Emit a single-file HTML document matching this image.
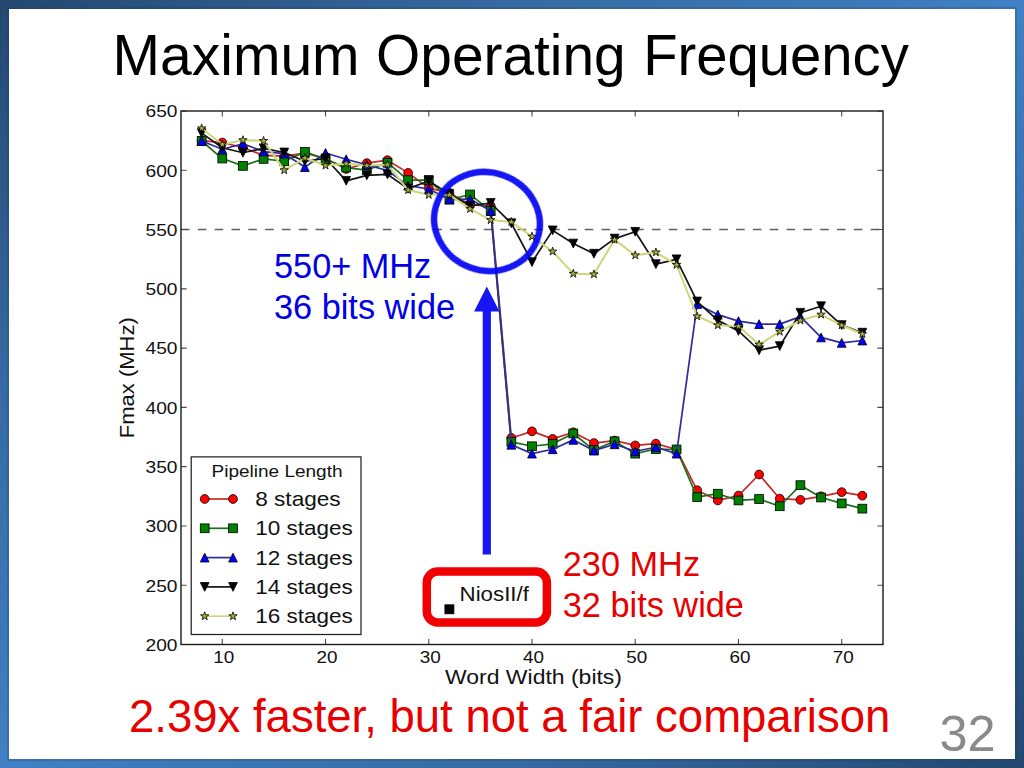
<!DOCTYPE html>
<html><head><meta charset="utf-8"><style>
html,body{margin:0;padding:0;width:1024px;height:768px;overflow:hidden;background:#fff}
svg{display:block}
text{font-family:"Liberation Sans",sans-serif}
</style></head><body>
<svg width="1024" height="768" viewBox="0 0 1024 768">
<defs>
<linearGradient id="bg" x1="0" y1="0" x2="1" y2="1">
<stop offset="0" stop-color="#244870"/>
<stop offset="0.25" stop-color="#366aa2"/>
<stop offset="0.5" stop-color="#4080c4"/>
<stop offset="0.75" stop-color="#366aa2"/>
<stop offset="1" stop-color="#244870"/>
</linearGradient>
<clipPath id="ax"><rect x="181" y="111" width="702" height="533.5"/></clipPath>
</defs>
<rect x="0" y="0" width="1024" height="768" fill="url(#bg)"/>
<rect x="8" y="8" width="1008" height="752" fill="none" stroke="#1e3250" stroke-opacity="0.4" stroke-width="1"/>
<rect x="9" y="9" width="1006" height="750" fill="#ffffff"/>

<text x="112.6" y="74.7" font-size="57" fill="#000">Maximum</text>
<text x="376.1" y="74.7" font-size="57" fill="#000" textLength="249.6" lengthAdjust="spacingAndGlyphs">Operating</text>
<text x="643.3" y="74.7" font-size="57" fill="#000" textLength="265.5" lengthAdjust="spacingAndGlyphs">Frequency</text>
<rect x="426.8" y="571.6" width="120.1" height="50.9" rx="11" ry="11" fill="none" stroke="#f00000" stroke-width="8.5"/>
<line x1="181" y1="229.56" x2="883" y2="229.56" stroke="#606060" stroke-width="1.4" stroke-dasharray="8.6 8.22"/>
<path d="M222.29 644.5V638.9M222.29 111V116.6M325.53 644.5V638.9M325.53 111V116.6M428.76 644.5V638.9M428.76 111V116.6M532.00 644.5V638.9M532.00 111V116.6M635.24 644.5V638.9M635.24 111V116.6M738.47 644.5V638.9M738.47 111V116.6M841.71 644.5V638.9M841.71 111V116.6M181 644.50H186.6M883 644.50H877.4M181 585.22H186.6M883 585.22H877.4M181 525.94H186.6M883 525.94H877.4M181 466.67H186.6M883 466.67H877.4M181 407.39H186.6M883 407.39H877.4M181 348.11H186.6M883 348.11H877.4M181 288.83H186.6M883 288.83H877.4M181 229.56H186.6M883 229.56H877.4M181 170.28H186.6M883 170.28H877.4M181 111.00H186.6M883 111.00H877.4" stroke="#4a4a4a" stroke-width="1.1" fill="none"/>
<g clip-path="url(#ax)">
<polyline points="201.65,140.64 222.29,142.54 242.94,147.52 263.59,155.46 284.24,156.05 304.88,153.09 325.53,158.42 346.18,168.97 366.82,163.16 387.47,160.20 408.12,172.89 428.76,188.06 449.41,192.80 470.06,205.01 490.71,205.84 511.35,437.98 532.00,431.34 552.65,438.92 573.29,432.29 593.94,443.07 614.59,440.58 635.24,445.45 655.88,443.67 676.53,449.48 697.18,490.26 717.82,500.45 738.47,495.59 759.12,474.49 779.76,498.68 800.41,499.86 821.06,496.31 841.71,492.16 862.35,495.71" fill="none" stroke="#c62a2a" stroke-width="1.7" stroke-linejoin="round"/>
<circle cx="201.65" cy="140.64" r="4.40" fill="#ff0000" stroke="#000" stroke-width="0.8"/><circle cx="222.29" cy="142.54" r="4.40" fill="#ff0000" stroke="#000" stroke-width="0.8"/><circle cx="242.94" cy="147.52" r="4.40" fill="#ff0000" stroke="#000" stroke-width="0.8"/><circle cx="263.59" cy="155.46" r="4.40" fill="#ff0000" stroke="#000" stroke-width="0.8"/><circle cx="284.24" cy="156.05" r="4.40" fill="#ff0000" stroke="#000" stroke-width="0.8"/><circle cx="304.88" cy="153.09" r="4.40" fill="#ff0000" stroke="#000" stroke-width="0.8"/><circle cx="325.53" cy="158.42" r="4.40" fill="#ff0000" stroke="#000" stroke-width="0.8"/><circle cx="346.18" cy="168.97" r="4.40" fill="#ff0000" stroke="#000" stroke-width="0.8"/><circle cx="366.82" cy="163.16" r="4.40" fill="#ff0000" stroke="#000" stroke-width="0.8"/><circle cx="387.47" cy="160.20" r="4.40" fill="#ff0000" stroke="#000" stroke-width="0.8"/><circle cx="408.12" cy="172.89" r="4.40" fill="#ff0000" stroke="#000" stroke-width="0.8"/><circle cx="428.76" cy="188.06" r="4.40" fill="#ff0000" stroke="#000" stroke-width="0.8"/><circle cx="449.41" cy="192.80" r="4.40" fill="#ff0000" stroke="#000" stroke-width="0.8"/><circle cx="470.06" cy="205.01" r="4.40" fill="#ff0000" stroke="#000" stroke-width="0.8"/><circle cx="490.71" cy="205.84" r="4.40" fill="#ff0000" stroke="#000" stroke-width="0.8"/><circle cx="511.35" cy="437.98" r="4.40" fill="#ff0000" stroke="#000" stroke-width="0.8"/><circle cx="532.00" cy="431.34" r="4.40" fill="#ff0000" stroke="#000" stroke-width="0.8"/><circle cx="552.65" cy="438.92" r="4.40" fill="#ff0000" stroke="#000" stroke-width="0.8"/><circle cx="573.29" cy="432.29" r="4.40" fill="#ff0000" stroke="#000" stroke-width="0.8"/><circle cx="593.94" cy="443.07" r="4.40" fill="#ff0000" stroke="#000" stroke-width="0.8"/><circle cx="614.59" cy="440.58" r="4.40" fill="#ff0000" stroke="#000" stroke-width="0.8"/><circle cx="635.24" cy="445.45" r="4.40" fill="#ff0000" stroke="#000" stroke-width="0.8"/><circle cx="655.88" cy="443.67" r="4.40" fill="#ff0000" stroke="#000" stroke-width="0.8"/><circle cx="676.53" cy="449.48" r="4.40" fill="#ff0000" stroke="#000" stroke-width="0.8"/><circle cx="697.18" cy="490.26" r="4.40" fill="#ff0000" stroke="#000" stroke-width="0.8"/><circle cx="717.82" cy="500.45" r="4.40" fill="#ff0000" stroke="#000" stroke-width="0.8"/><circle cx="738.47" cy="495.59" r="4.40" fill="#ff0000" stroke="#000" stroke-width="0.8"/><circle cx="759.12" cy="474.49" r="4.40" fill="#ff0000" stroke="#000" stroke-width="0.8"/><circle cx="779.76" cy="498.68" r="4.40" fill="#ff0000" stroke="#000" stroke-width="0.8"/><circle cx="800.41" cy="499.86" r="4.40" fill="#ff0000" stroke="#000" stroke-width="0.8"/><circle cx="821.06" cy="496.31" r="4.40" fill="#ff0000" stroke="#000" stroke-width="0.8"/><circle cx="841.71" cy="492.16" r="4.40" fill="#ff0000" stroke="#000" stroke-width="0.8"/><circle cx="862.35" cy="495.71" r="4.40" fill="#ff0000" stroke="#000" stroke-width="0.8"/>
<polyline points="201.65,140.99 222.29,158.54 242.94,165.89 263.59,158.90 284.24,161.27 304.88,151.90 325.53,159.25 346.18,167.55 366.82,170.04 387.47,162.69 408.12,180.12 428.76,180.00 449.41,199.56 470.06,194.46 490.71,210.94 511.35,441.89 532.00,446.28 552.65,443.79 573.29,433.47 593.94,450.07 614.59,441.30 635.24,453.63 655.88,449.00 676.53,449.48 697.18,497.14 717.82,493.70 738.47,500.45 759.12,499.03 779.76,506.26 800.41,485.16 821.06,497.49 841.71,503.42 862.35,508.64" fill="none" stroke="#1c701c" stroke-width="1.7" stroke-linejoin="round"/>
<rect x="197.25" y="136.59" width="8.80" height="8.80" fill="#008000" stroke="#000" stroke-width="0.8"/><rect x="217.89" y="154.14" width="8.80" height="8.80" fill="#008000" stroke="#000" stroke-width="0.8"/><rect x="238.54" y="161.49" width="8.80" height="8.80" fill="#008000" stroke="#000" stroke-width="0.8"/><rect x="259.19" y="154.50" width="8.80" height="8.80" fill="#008000" stroke="#000" stroke-width="0.8"/><rect x="279.84" y="156.87" width="8.80" height="8.80" fill="#008000" stroke="#000" stroke-width="0.8"/><rect x="300.48" y="147.50" width="8.80" height="8.80" fill="#008000" stroke="#000" stroke-width="0.8"/><rect x="321.13" y="154.85" width="8.80" height="8.80" fill="#008000" stroke="#000" stroke-width="0.8"/><rect x="341.78" y="163.15" width="8.80" height="8.80" fill="#008000" stroke="#000" stroke-width="0.8"/><rect x="362.42" y="165.64" width="8.80" height="8.80" fill="#008000" stroke="#000" stroke-width="0.8"/><rect x="383.07" y="158.29" width="8.80" height="8.80" fill="#008000" stroke="#000" stroke-width="0.8"/><rect x="403.72" y="175.72" width="8.80" height="8.80" fill="#008000" stroke="#000" stroke-width="0.8"/><rect x="424.36" y="175.60" width="8.80" height="8.80" fill="#008000" stroke="#000" stroke-width="0.8"/><rect x="445.01" y="195.16" width="8.80" height="8.80" fill="#008000" stroke="#000" stroke-width="0.8"/><rect x="465.66" y="190.06" width="8.80" height="8.80" fill="#008000" stroke="#000" stroke-width="0.8"/><rect x="486.31" y="206.54" width="8.80" height="8.80" fill="#008000" stroke="#000" stroke-width="0.8"/><rect x="506.95" y="437.49" width="8.80" height="8.80" fill="#008000" stroke="#000" stroke-width="0.8"/><rect x="527.60" y="441.88" width="8.80" height="8.80" fill="#008000" stroke="#000" stroke-width="0.8"/><rect x="548.25" y="439.39" width="8.80" height="8.80" fill="#008000" stroke="#000" stroke-width="0.8"/><rect x="568.89" y="429.07" width="8.80" height="8.80" fill="#008000" stroke="#000" stroke-width="0.8"/><rect x="589.54" y="445.67" width="8.80" height="8.80" fill="#008000" stroke="#000" stroke-width="0.8"/><rect x="610.19" y="436.90" width="8.80" height="8.80" fill="#008000" stroke="#000" stroke-width="0.8"/><rect x="630.84" y="449.23" width="8.80" height="8.80" fill="#008000" stroke="#000" stroke-width="0.8"/><rect x="651.48" y="444.60" width="8.80" height="8.80" fill="#008000" stroke="#000" stroke-width="0.8"/><rect x="672.13" y="445.08" width="8.80" height="8.80" fill="#008000" stroke="#000" stroke-width="0.8"/><rect x="692.78" y="492.74" width="8.80" height="8.80" fill="#008000" stroke="#000" stroke-width="0.8"/><rect x="713.42" y="489.30" width="8.80" height="8.80" fill="#008000" stroke="#000" stroke-width="0.8"/><rect x="734.07" y="496.06" width="8.80" height="8.80" fill="#008000" stroke="#000" stroke-width="0.8"/><rect x="754.72" y="494.63" width="8.80" height="8.80" fill="#008000" stroke="#000" stroke-width="0.8"/><rect x="775.36" y="501.86" width="8.80" height="8.80" fill="#008000" stroke="#000" stroke-width="0.8"/><rect x="796.01" y="480.76" width="8.80" height="8.80" fill="#008000" stroke="#000" stroke-width="0.8"/><rect x="816.66" y="493.09" width="8.80" height="8.80" fill="#008000" stroke="#000" stroke-width="0.8"/><rect x="837.31" y="499.02" width="8.80" height="8.80" fill="#008000" stroke="#000" stroke-width="0.8"/><rect x="857.95" y="504.24" width="8.80" height="8.80" fill="#008000" stroke="#000" stroke-width="0.8"/>
<polyline points="201.65,140.99 222.29,149.29 242.94,143.72 263.59,151.55 284.24,153.68 304.88,167.08 325.53,152.97 346.18,159.25 366.82,164.94 387.47,170.51 408.12,185.69 428.76,189.01 449.41,199.44 470.06,199.09 490.71,210.94 511.35,444.73 532.00,453.63 552.65,449.24 573.29,439.87 593.94,450.66 614.59,444.26 635.24,451.25 655.88,447.22 676.53,453.63 697.18,304.13 717.82,314.68 738.47,321.08 759.12,324.16 779.76,324.16 800.41,316.58 821.06,337.44 841.71,342.89 862.35,340.52" fill="none" stroke="#2d2d9e" stroke-width="1.7" stroke-linejoin="round"/>
<path d="M201.65 136.59L197.25 145.39L206.05 145.39Z" fill="#0000ff" stroke="#000" stroke-width="0.8"/><path d="M222.29 144.89L217.89 153.69L226.69 153.69Z" fill="#0000ff" stroke="#000" stroke-width="0.8"/><path d="M242.94 139.32L238.54 148.12L247.34 148.12Z" fill="#0000ff" stroke="#000" stroke-width="0.8"/><path d="M263.59 147.15L259.19 155.95L267.99 155.95Z" fill="#0000ff" stroke="#000" stroke-width="0.8"/><path d="M284.24 149.28L279.84 158.08L288.64 158.08Z" fill="#0000ff" stroke="#000" stroke-width="0.8"/><path d="M304.88 162.68L300.48 171.48L309.28 171.48Z" fill="#0000ff" stroke="#000" stroke-width="0.8"/><path d="M325.53 148.57L321.13 157.37L329.93 157.37Z" fill="#0000ff" stroke="#000" stroke-width="0.8"/><path d="M346.18 154.85L341.78 163.65L350.58 163.65Z" fill="#0000ff" stroke="#000" stroke-width="0.8"/><path d="M366.82 160.54L362.42 169.34L371.22 169.34Z" fill="#0000ff" stroke="#000" stroke-width="0.8"/><path d="M387.47 166.11L383.07 174.91L391.87 174.91Z" fill="#0000ff" stroke="#000" stroke-width="0.8"/><path d="M408.12 181.29L403.72 190.09L412.52 190.09Z" fill="#0000ff" stroke="#000" stroke-width="0.8"/><path d="M428.76 184.61L424.36 193.41L433.16 193.41Z" fill="#0000ff" stroke="#000" stroke-width="0.8"/><path d="M449.41 195.04L445.01 203.84L453.81 203.84Z" fill="#0000ff" stroke="#000" stroke-width="0.8"/><path d="M470.06 194.69L465.66 203.49L474.46 203.49Z" fill="#0000ff" stroke="#000" stroke-width="0.8"/><path d="M490.71 206.54L486.31 215.34L495.11 215.34Z" fill="#0000ff" stroke="#000" stroke-width="0.8"/><path d="M511.35 440.33L506.95 449.13L515.75 449.13Z" fill="#0000ff" stroke="#000" stroke-width="0.8"/><path d="M532.00 449.23L527.60 458.03L536.40 458.03Z" fill="#0000ff" stroke="#000" stroke-width="0.8"/><path d="M552.65 444.84L548.25 453.64L557.05 453.64Z" fill="#0000ff" stroke="#000" stroke-width="0.8"/><path d="M573.29 435.47L568.89 444.27L577.69 444.27Z" fill="#0000ff" stroke="#000" stroke-width="0.8"/><path d="M593.94 446.26L589.54 455.06L598.34 455.06Z" fill="#0000ff" stroke="#000" stroke-width="0.8"/><path d="M614.59 439.86L610.19 448.66L618.99 448.66Z" fill="#0000ff" stroke="#000" stroke-width="0.8"/><path d="M635.24 446.85L630.84 455.65L639.64 455.65Z" fill="#0000ff" stroke="#000" stroke-width="0.8"/><path d="M655.88 442.82L651.48 451.62L660.28 451.62Z" fill="#0000ff" stroke="#000" stroke-width="0.8"/><path d="M676.53 449.23L672.13 458.03L680.93 458.03Z" fill="#0000ff" stroke="#000" stroke-width="0.8"/><path d="M697.18 299.73L692.78 308.53L701.58 308.53Z" fill="#0000ff" stroke="#000" stroke-width="0.8"/><path d="M717.82 310.28L713.42 319.08L722.22 319.08Z" fill="#0000ff" stroke="#000" stroke-width="0.8"/><path d="M738.47 316.68L734.07 325.48L742.87 325.48Z" fill="#0000ff" stroke="#000" stroke-width="0.8"/><path d="M759.12 319.76L754.72 328.56L763.52 328.56Z" fill="#0000ff" stroke="#000" stroke-width="0.8"/><path d="M779.76 319.76L775.36 328.56L784.16 328.56Z" fill="#0000ff" stroke="#000" stroke-width="0.8"/><path d="M800.41 312.18L796.01 320.98L804.81 320.98Z" fill="#0000ff" stroke="#000" stroke-width="0.8"/><path d="M821.06 333.04L816.66 341.84L825.46 341.84Z" fill="#0000ff" stroke="#000" stroke-width="0.8"/><path d="M841.71 338.49L837.31 347.29L846.11 347.29Z" fill="#0000ff" stroke="#000" stroke-width="0.8"/><path d="M862.35 336.12L857.95 344.92L866.75 344.92Z" fill="#0000ff" stroke="#000" stroke-width="0.8"/>
<polyline points="201.65,133.17 222.29,147.75 242.94,152.73 263.59,148.34 284.24,152.49 304.88,161.27 325.53,158.30 346.18,180.83 366.82,175.38 387.47,174.43 408.12,188.65 428.76,180.95 449.41,193.99 470.06,205.84 490.71,203.00 511.35,223.27 532.00,262.16 552.65,230.39 573.29,243.55 593.94,253.74 614.59,238.57 635.24,231.81 655.88,264.17 676.53,259.31 697.18,301.52 717.82,320.37 738.47,330.92 759.12,350.25 779.76,346.10 800.41,312.78 821.06,306.26 841.71,325.11 862.35,332.70" fill="none" stroke="#141414" stroke-width="1.7" stroke-linejoin="round"/>
<path d="M201.65 137.57L197.25 128.77L206.05 128.77Z" fill="#000000" stroke="#000" stroke-width="0.8"/><path d="M222.29 152.15L217.89 143.35L226.69 143.35Z" fill="#000000" stroke="#000" stroke-width="0.8"/><path d="M242.94 157.13L238.54 148.33L247.34 148.33Z" fill="#000000" stroke="#000" stroke-width="0.8"/><path d="M263.59 152.75L259.19 143.94L267.99 143.94Z" fill="#000000" stroke="#000" stroke-width="0.8"/><path d="M284.24 156.89L279.84 148.09L288.64 148.09Z" fill="#000000" stroke="#000" stroke-width="0.8"/><path d="M304.88 165.67L300.48 156.87L309.28 156.87Z" fill="#000000" stroke="#000" stroke-width="0.8"/><path d="M325.53 162.70L321.13 153.90L329.93 153.90Z" fill="#000000" stroke="#000" stroke-width="0.8"/><path d="M346.18 185.23L341.78 176.43L350.58 176.43Z" fill="#000000" stroke="#000" stroke-width="0.8"/><path d="M366.82 179.78L362.42 170.98L371.22 170.98Z" fill="#000000" stroke="#000" stroke-width="0.8"/><path d="M387.47 178.83L383.07 170.03L391.87 170.03Z" fill="#000000" stroke="#000" stroke-width="0.8"/><path d="M408.12 193.05L403.72 184.25L412.52 184.25Z" fill="#000000" stroke="#000" stroke-width="0.8"/><path d="M428.76 185.35L424.36 176.55L433.16 176.55Z" fill="#000000" stroke="#000" stroke-width="0.8"/><path d="M449.41 198.39L445.01 189.59L453.81 189.59Z" fill="#000000" stroke="#000" stroke-width="0.8"/><path d="M470.06 210.24L465.66 201.44L474.46 201.44Z" fill="#000000" stroke="#000" stroke-width="0.8"/><path d="M490.71 207.40L486.31 198.60L495.11 198.60Z" fill="#000000" stroke="#000" stroke-width="0.8"/><path d="M511.35 227.67L506.95 218.87L515.75 218.87Z" fill="#000000" stroke="#000" stroke-width="0.8"/><path d="M532.00 266.56L527.60 257.76L536.40 257.76Z" fill="#000000" stroke="#000" stroke-width="0.8"/><path d="M552.65 234.79L548.25 225.99L557.05 225.99Z" fill="#000000" stroke="#000" stroke-width="0.8"/><path d="M573.29 247.95L568.89 239.15L577.69 239.15Z" fill="#000000" stroke="#000" stroke-width="0.8"/><path d="M593.94 258.14L589.54 249.34L598.34 249.34Z" fill="#000000" stroke="#000" stroke-width="0.8"/><path d="M614.59 242.97L610.19 234.17L618.99 234.17Z" fill="#000000" stroke="#000" stroke-width="0.8"/><path d="M635.24 236.21L630.84 227.41L639.64 227.41Z" fill="#000000" stroke="#000" stroke-width="0.8"/><path d="M655.88 268.57L651.48 259.77L660.28 259.77Z" fill="#000000" stroke="#000" stroke-width="0.8"/><path d="M676.53 263.71L672.13 254.91L680.93 254.91Z" fill="#000000" stroke="#000" stroke-width="0.8"/><path d="M697.18 305.92L692.78 297.12L701.58 297.12Z" fill="#000000" stroke="#000" stroke-width="0.8"/><path d="M717.82 324.77L713.42 315.97L722.22 315.97Z" fill="#000000" stroke="#000" stroke-width="0.8"/><path d="M738.47 335.32L734.07 326.52L742.87 326.52Z" fill="#000000" stroke="#000" stroke-width="0.8"/><path d="M759.12 354.65L754.72 345.85L763.52 345.85Z" fill="#000000" stroke="#000" stroke-width="0.8"/><path d="M779.76 350.50L775.36 341.70L784.16 341.70Z" fill="#000000" stroke="#000" stroke-width="0.8"/><path d="M800.41 317.18L796.01 308.38L804.81 308.38Z" fill="#000000" stroke="#000" stroke-width="0.8"/><path d="M821.06 310.66L816.66 301.86L825.46 301.86Z" fill="#000000" stroke="#000" stroke-width="0.8"/><path d="M841.71 329.51L837.31 320.71L846.11 320.71Z" fill="#000000" stroke="#000" stroke-width="0.8"/><path d="M862.35 337.10L857.95 328.30L866.75 328.30Z" fill="#000000" stroke="#000" stroke-width="0.8"/>
<polyline points="201.65,128.31 222.29,144.43 242.94,140.16 263.59,140.88 284.24,170.16 304.88,158.07 325.53,165.54 346.18,163.64 366.82,165.54 387.47,164.59 408.12,190.08 428.76,194.82 449.41,194.82 470.06,208.93 490.71,220.07 511.35,221.85 532.00,236.55 552.65,251.49 573.29,273.66 593.94,274.25 614.59,239.63 635.24,255.28 655.88,252.32 676.53,264.89 697.18,316.34 717.82,325.23 738.47,326.30 759.12,344.55 779.76,331.63 800.41,320.49 821.06,314.56 841.71,325.23 862.35,334.00" fill="none" stroke="#cfd67a" stroke-width="2.04" stroke-linejoin="round"/>
<path d="M201.65 123.91L200.66 126.95L197.46 126.95L200.05 128.83L199.06 131.87L201.65 129.99L204.23 131.87L203.25 128.83L205.83 126.95L202.63 126.95Z" fill="#a8b040" stroke="#000" stroke-width="0.8"/><path d="M222.29 140.03L221.31 143.07L218.11 143.07L220.70 144.95L219.71 147.99L222.29 146.11L224.88 147.99L223.89 144.95L226.48 143.07L223.28 143.07Z" fill="#a8b040" stroke="#000" stroke-width="0.8"/><path d="M242.94 135.76L241.95 138.80L238.76 138.80L241.34 140.68L240.35 143.72L242.94 141.85L245.53 143.72L244.54 140.68L247.13 138.80L243.93 138.80Z" fill="#a8b040" stroke="#000" stroke-width="0.8"/><path d="M263.59 136.48L262.60 139.52L259.40 139.52L261.99 141.40L261.00 144.44L263.59 142.56L266.17 144.44L265.19 141.40L267.77 139.52L264.58 139.52Z" fill="#a8b040" stroke="#000" stroke-width="0.8"/><path d="M284.24 165.76L283.25 168.80L280.05 168.80L282.64 170.68L281.65 173.72L284.24 171.84L286.82 173.72L285.83 170.68L288.42 168.80L285.22 168.80Z" fill="#a8b040" stroke="#000" stroke-width="0.8"/><path d="M304.88 153.67L303.89 156.71L300.70 156.71L303.28 158.59L302.30 161.63L304.88 159.75L307.47 161.63L306.48 158.59L309.07 156.71L305.87 156.71Z" fill="#a8b040" stroke="#000" stroke-width="0.8"/><path d="M325.53 161.14L324.54 164.18L321.34 164.18L323.93 166.05L322.94 169.10L325.53 167.22L328.12 169.10L327.13 166.05L329.71 164.18L326.52 164.18Z" fill="#a8b040" stroke="#000" stroke-width="0.8"/><path d="M346.18 159.24L345.19 162.28L341.99 162.28L344.58 164.16L343.59 167.20L346.18 165.32L348.76 167.20L347.77 164.16L350.36 162.28L347.16 162.28Z" fill="#a8b040" stroke="#000" stroke-width="0.8"/><path d="M366.82 161.14L365.84 164.18L362.64 164.18L365.23 166.05L364.24 169.10L366.82 167.22L369.41 169.10L368.42 166.05L371.01 164.18L367.81 164.18Z" fill="#a8b040" stroke="#000" stroke-width="0.8"/><path d="M387.47 160.19L386.48 163.23L383.29 163.23L385.87 165.11L384.88 168.15L387.47 166.27L390.06 168.15L389.07 165.11L391.66 163.23L388.46 163.23Z" fill="#a8b040" stroke="#000" stroke-width="0.8"/><path d="M408.12 185.68L407.13 188.72L403.93 188.72L406.52 190.60L405.53 193.64L408.12 191.76L410.70 193.64L409.72 190.60L412.30 188.72L409.11 188.72Z" fill="#a8b040" stroke="#000" stroke-width="0.8"/><path d="M428.76 190.42L427.78 193.46L424.58 193.46L427.17 195.34L426.18 198.38L428.76 196.50L431.35 198.38L430.36 195.34L432.95 193.46L429.75 193.46Z" fill="#a8b040" stroke="#000" stroke-width="0.8"/><path d="M449.41 190.42L448.42 193.46L445.23 193.46L447.81 195.34L446.83 198.38L449.41 196.50L452.00 198.38L451.01 195.34L453.60 193.46L450.40 193.46Z" fill="#a8b040" stroke="#000" stroke-width="0.8"/><path d="M470.06 204.53L469.07 207.57L465.87 207.57L468.46 209.45L467.47 212.49L470.06 210.61L472.65 212.49L471.66 209.45L474.24 207.57L471.05 207.57Z" fill="#a8b040" stroke="#000" stroke-width="0.8"/><path d="M490.71 215.67L489.72 218.71L486.52 218.71L489.11 220.59L488.12 223.63L490.71 221.75L493.29 223.63L492.30 220.59L494.89 218.71L491.69 218.71Z" fill="#a8b040" stroke="#000" stroke-width="0.8"/><path d="M511.35 217.45L510.37 220.49L507.17 220.49L509.75 222.37L508.77 225.41L511.35 223.53L513.94 225.41L512.95 222.37L515.54 220.49L512.34 220.49Z" fill="#a8b040" stroke="#000" stroke-width="0.8"/><path d="M532.00 232.15L531.01 235.19L527.82 235.19L530.40 237.07L529.41 240.11L532.00 238.23L534.59 240.11L533.60 237.07L536.18 235.19L532.99 235.19Z" fill="#a8b040" stroke="#000" stroke-width="0.8"/><path d="M552.65 247.09L551.66 250.13L548.46 250.13L551.05 252.01L550.06 255.05L552.65 253.17L555.23 255.05L554.25 252.01L556.83 250.13L553.63 250.13Z" fill="#a8b040" stroke="#000" stroke-width="0.8"/><path d="M573.29 269.26L572.31 272.30L569.11 272.30L571.70 274.18L570.71 277.22L573.29 275.34L575.88 277.22L574.89 274.18L577.48 272.30L574.28 272.30Z" fill="#a8b040" stroke="#000" stroke-width="0.8"/><path d="M593.94 269.85L592.95 272.89L589.76 272.89L592.34 274.77L591.35 277.81L593.94 275.93L596.53 277.81L595.54 274.77L598.13 272.89L594.93 272.89Z" fill="#a8b040" stroke="#000" stroke-width="0.8"/><path d="M614.59 235.23L613.60 238.27L610.40 238.27L612.99 240.15L612.00 243.19L614.59 241.31L617.17 243.19L616.19 240.15L618.77 238.27L615.58 238.27Z" fill="#a8b040" stroke="#000" stroke-width="0.8"/><path d="M635.24 250.88L634.25 253.92L631.05 253.92L633.64 255.80L632.65 258.84L635.24 256.96L637.82 258.84L636.83 255.80L639.42 253.92L636.22 253.92Z" fill="#a8b040" stroke="#000" stroke-width="0.8"/><path d="M655.88 247.92L654.89 250.96L651.70 250.96L654.28 252.84L653.30 255.88L655.88 254.00L658.47 255.88L657.48 252.84L660.07 250.96L656.87 250.96Z" fill="#a8b040" stroke="#000" stroke-width="0.8"/><path d="M676.53 260.49L675.54 263.53L672.34 263.53L674.93 265.40L673.94 268.44L676.53 266.57L679.12 268.44L678.13 265.40L680.71 263.53L677.52 263.53Z" fill="#a8b040" stroke="#000" stroke-width="0.8"/><path d="M697.18 311.94L696.19 314.98L692.99 314.98L695.58 316.86L694.59 319.90L697.18 318.02L699.76 319.90L698.77 316.86L701.36 314.98L698.16 314.98Z" fill="#a8b040" stroke="#000" stroke-width="0.8"/><path d="M717.82 320.83L716.84 323.87L713.64 323.87L716.23 325.75L715.24 328.79L717.82 326.91L720.41 328.79L719.42 325.75L722.01 323.87L718.81 323.87Z" fill="#a8b040" stroke="#000" stroke-width="0.8"/><path d="M738.47 321.90L737.48 324.94L734.29 324.94L736.87 326.82L735.88 329.86L738.47 327.98L741.06 329.86L740.07 326.82L742.66 324.94L739.46 324.94Z" fill="#a8b040" stroke="#000" stroke-width="0.8"/><path d="M759.12 340.15L758.13 343.19L754.93 343.19L757.52 345.07L756.53 348.11L759.12 346.24L761.70 348.11L760.72 345.07L763.30 343.19L760.11 343.19Z" fill="#a8b040" stroke="#000" stroke-width="0.8"/><path d="M779.76 327.23L778.78 330.27L775.58 330.27L778.17 332.15L777.18 335.19L779.76 333.31L782.35 335.19L781.36 332.15L783.95 330.27L780.75 330.27Z" fill="#a8b040" stroke="#000" stroke-width="0.8"/><path d="M800.41 316.09L799.42 319.13L796.23 319.13L798.81 321.01L797.83 324.05L800.41 322.17L803.00 324.05L802.01 321.01L804.60 319.13L801.40 319.13Z" fill="#a8b040" stroke="#000" stroke-width="0.8"/><path d="M821.06 310.16L820.07 313.20L816.87 313.20L819.46 315.08L818.47 318.12L821.06 316.24L823.65 318.12L822.66 315.08L825.24 313.20L822.05 313.20Z" fill="#a8b040" stroke="#000" stroke-width="0.8"/><path d="M841.71 320.83L840.72 323.87L837.52 323.87L840.11 325.75L839.12 328.79L841.71 326.91L844.29 328.79L843.30 325.75L845.89 323.87L842.69 323.87Z" fill="#a8b040" stroke="#000" stroke-width="0.8"/><path d="M862.35 329.60L861.37 332.64L858.17 332.64L860.75 334.52L859.77 337.56L862.35 335.68L864.94 337.56L863.95 334.52L866.54 332.64L863.34 332.64Z" fill="#a8b040" stroke="#000" stroke-width="0.8"/>
</g>
<rect x="181" y="111" width="702" height="533.5" fill="none" stroke="#1a1a1a" stroke-width="1.4"/>
<rect x="444.90" y="604.80" width="9.00" height="9.00" fill="#000" stroke="#000" stroke-width="0.8"/>
<text x="459.5" y="601" font-size="20" fill="#111" textLength="69.5" lengthAdjust="spacingAndGlyphs">NiosII/f</text>
<text x="223.79" y="663.3" font-size="17.3" fill="#111" text-anchor="middle" textLength="21" lengthAdjust="spacingAndGlyphs">10</text>
<text x="327.03" y="663.3" font-size="17.3" fill="#111" text-anchor="middle" textLength="21" lengthAdjust="spacingAndGlyphs">20</text>
<text x="430.26" y="663.3" font-size="17.3" fill="#111" text-anchor="middle" textLength="21" lengthAdjust="spacingAndGlyphs">30</text>
<text x="533.50" y="663.3" font-size="17.3" fill="#111" text-anchor="middle" textLength="21" lengthAdjust="spacingAndGlyphs">40</text>
<text x="636.74" y="663.3" font-size="17.3" fill="#111" text-anchor="middle" textLength="21" lengthAdjust="spacingAndGlyphs">50</text>
<text x="739.97" y="663.3" font-size="17.3" fill="#111" text-anchor="middle" textLength="21" lengthAdjust="spacingAndGlyphs">60</text>
<text x="843.21" y="663.3" font-size="17.3" fill="#111" text-anchor="middle" textLength="21" lengthAdjust="spacingAndGlyphs">70</text>
<text x="177.5" y="650.80" font-size="17.3" fill="#111" text-anchor="end" textLength="32" lengthAdjust="spacingAndGlyphs">200</text>
<text x="177.5" y="591.52" font-size="17.3" fill="#111" text-anchor="end" textLength="32" lengthAdjust="spacingAndGlyphs">250</text>
<text x="177.5" y="532.24" font-size="17.3" fill="#111" text-anchor="end" textLength="32" lengthAdjust="spacingAndGlyphs">300</text>
<text x="177.5" y="472.97" font-size="17.3" fill="#111" text-anchor="end" textLength="32" lengthAdjust="spacingAndGlyphs">350</text>
<text x="177.5" y="413.69" font-size="17.3" fill="#111" text-anchor="end" textLength="32" lengthAdjust="spacingAndGlyphs">400</text>
<text x="177.5" y="354.41" font-size="17.3" fill="#111" text-anchor="end" textLength="32" lengthAdjust="spacingAndGlyphs">450</text>
<text x="177.5" y="295.13" font-size="17.3" fill="#111" text-anchor="end" textLength="32" lengthAdjust="spacingAndGlyphs">500</text>
<text x="177.5" y="235.86" font-size="17.3" fill="#111" text-anchor="end" textLength="32" lengthAdjust="spacingAndGlyphs">550</text>
<text x="177.5" y="176.58" font-size="17.3" fill="#111" text-anchor="end" textLength="32" lengthAdjust="spacingAndGlyphs">600</text>
<text x="177.5" y="117.30" font-size="17.3" fill="#111" text-anchor="end" textLength="32" lengthAdjust="spacingAndGlyphs">650</text>
<text x="533.5" y="684.4" font-size="20.2" fill="#111" text-anchor="middle" textLength="177" lengthAdjust="spacingAndGlyphs">Word Width (bits)</text>
<text transform="translate(134.4 377.7) rotate(-90)" x="0" y="0" font-size="20.2" fill="#111" text-anchor="middle" textLength="121" lengthAdjust="spacingAndGlyphs">Fmax (MHz)</text>
<rect x="191.2" y="456.9" width="169.8" height="177.6" fill="#fff" stroke="#1a1a1a" stroke-width="1.2"/>
<text x="211.5" y="477.3" font-size="17.3" fill="#111" textLength="131" lengthAdjust="spacingAndGlyphs">Pipeline Length</text>
<line x1="204.7" y1="499.00" x2="233" y2="499.00" stroke="#c62a2a" stroke-width="1.7"/>
<circle cx="204.70" cy="499.00" r="4.40" fill="#ff0000" stroke="#000" stroke-width="0.8"/><circle cx="233.00" cy="499.00" r="4.40" fill="#ff0000" stroke="#000" stroke-width="0.8"/>
<text x="255.2" y="506.00" font-size="20.2" fill="#111" textLength="85.5" lengthAdjust="spacingAndGlyphs">8 stages</text>
<line x1="204.7" y1="528.30" x2="233" y2="528.30" stroke="#1c701c" stroke-width="1.7"/>
<rect x="200.30" y="523.90" width="8.80" height="8.80" fill="#008000" stroke="#000" stroke-width="0.8"/><rect x="228.60" y="523.90" width="8.80" height="8.80" fill="#008000" stroke="#000" stroke-width="0.8"/>
<text x="255.2" y="535.30" font-size="20.2" fill="#111" textLength="97.5" lengthAdjust="spacingAndGlyphs">10 stages</text>
<line x1="204.7" y1="557.60" x2="233" y2="557.60" stroke="#2d2d9e" stroke-width="1.7"/>
<path d="M204.70 553.20L200.30 562.00L209.10 562.00Z" fill="#0000ff" stroke="#000" stroke-width="0.8"/><path d="M233.00 553.20L228.60 562.00L237.40 562.00Z" fill="#0000ff" stroke="#000" stroke-width="0.8"/>
<text x="255.2" y="564.60" font-size="20.2" fill="#111" textLength="97.5" lengthAdjust="spacingAndGlyphs">12 stages</text>
<line x1="204.7" y1="586.90" x2="233" y2="586.90" stroke="#141414" stroke-width="1.7"/>
<path d="M204.70 591.30L200.30 582.50L209.10 582.50Z" fill="#000000" stroke="#000" stroke-width="0.8"/><path d="M233.00 591.30L228.60 582.50L237.40 582.50Z" fill="#000000" stroke="#000" stroke-width="0.8"/>
<text x="255.2" y="593.90" font-size="20.2" fill="#111" textLength="97.5" lengthAdjust="spacingAndGlyphs">14 stages</text>
<line x1="204.7" y1="616.20" x2="233" y2="616.20" stroke="#cfd67a" stroke-width="1.7"/>
<path d="M204.70 611.80L203.71 614.84L200.52 614.84L203.10 616.72L202.11 619.76L204.70 617.88L207.29 619.76L206.30 616.72L208.88 614.84L205.69 614.84Z" fill="#a8b040" stroke="#000" stroke-width="0.8"/><path d="M233.00 611.80L232.01 614.84L228.82 614.84L231.40 616.72L230.41 619.76L233.00 617.88L235.59 619.76L234.60 616.72L237.18 614.84L233.99 614.84Z" fill="#a8b040" stroke="#000" stroke-width="0.8"/>
<text x="255.2" y="623.20" font-size="20.2" fill="#111" textLength="97.5" lengthAdjust="spacingAndGlyphs">16 stages</text>
<text x="274" y="277.9" font-size="34.3" fill="#0000e6">550+ MHz</text>
<text x="274" y="319.2" font-size="34.3" fill="#0000e6">36 bits wide</text>
<text x="562.8" y="576.1" font-size="34.3" fill="#e80000">230 MHz</text>
<text x="562.8" y="617.1" font-size="34.3" fill="#e80000">32 bits wide</text>
<text x="129" y="731.8" font-size="45.5" fill="#e80000">2.39x faster, but not a fair comparison</text>
<text x="939.5" y="751.2" font-size="50.5" fill="#8a8a8a">32</text>
<g opacity="0.92">
<ellipse cx="487" cy="221.5" rx="53.3" ry="49" fill="none" stroke="#0000f5" stroke-width="6.4" transform="rotate(20 487 221.5)"/>
<path d="M482.7 554.4V311.4H474.1L486.8 286.4L499.5 311.4H490.9V554.4Z" fill="#0000f5"/>
</g>
</svg></body></html>
